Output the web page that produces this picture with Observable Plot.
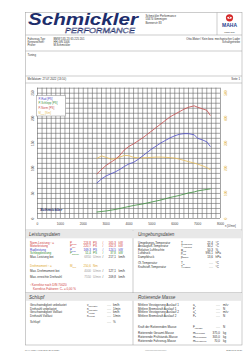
<!DOCTYPE html>
<html><head><meta charset="utf-8">
<script src="https://cdn.jsdelivr.net/npm/d3@7"></script>
<script src="https://cdn.jsdelivr.net/npm/@observablehq/plot@0.6"></script>
<style>
html,body{margin:0;padding:0;background:#fff;}
#page{position:relative;width:250px;height:354px;overflow:hidden;background:#fff;font-family:"Liberation Sans",Arial,sans-serif;}
#page > svg{position:absolute;left:0;}
</style></head><body><div id="page"></div>
<script>
// ---- chart data ----
const rpm      = [2600, 2800, 3000, 3200, 3400, 3600, 3800, 4000, 4200, 4400, 4600, 4800, 5000, 5200, 5400, 5600, 5800, 6000, 6200, 6400, 6600, 6850, 7000, 7200, 7400, 7550];
const pNorm    = [89, 98, 106, 112, 118, 126, 137, 144, 149, 155, 161, 168, 175, 182, 189, 196, 203, 208, 213, 218, 222, 224.8, 222, 219, 216, 206];
const pRad     = [71, 79, 85, 89, 93, 98, 104, 109, 112, 118, 125, 132, 139, 145, 151, 156, 161, 165, 168, 169.3, 169.3, 167, 160, 157, 153, 144];
const pSchlepp = [13, 14, 15, 16.5, 18, 20, 22, 24, 26, 27.5, 29, 31, 33, 35, 37, 39.5, 42, 44, 46, 48.5, 51, 53, 55, 56.5, 58, 59];
const mRad     = [240, 250, 244, 237, 238, 245, 252, 250.6, 244, 242, 242, 243, 244, 245, 245, 244, 243, 241, 237, 232, 227, 221, 217, 211, 203, 195];
const xTicks   = [0, 1000, 2000, 3000, 4000, 5000, 6000, 7000, 8000];
const psTicks  = [0, 50, 100, 150, 200, 250];
const nmTicks  = [0, 100, 200, 300, 400, 500];
const seriesNames  = ["P-Rad [PS]", "P-Schlepp [PS]", "P-Norm [PS]", "M_Rad [Nm]"];
const seriesColors = ["#4a4ac8", "#3a8f3a", "#c84a4a", "#e8bf60"];

const rows = rpm.map((n, i) => ({n, rad: pRad[i], schlepp: pSchlepp[i], norm: pNorm[i], m: mRad[i]}));

const page = document.getElementById("page");

const chart = Plot.plot({
  width: 250, height: 150,
  marginLeft: 37, marginRight: 30, marginTop: 7.7, marginBottom: 12,
  x: {domain: [0, 8000], axis: null},
  y: {domain: [0, 260], axis: null},
  style: {fontFamily: "Liberation Sans, Arial, sans-serif", background: "transparent"},
  marks: [
    Plot.ruleX(d3.range(0, 8001, 200), {x: d => d, y1: 0, y2: 260, stroke: "#666", strokeWidth: 0.6}),
    Plot.ruleY(d3.range(0, 261, 10), {y: d => d, x1: 0, x2: 8000, stroke: "#666", strokeWidth: 0.6}),
    Plot.line(rows, {x: "n", y: "schlepp", stroke: seriesColors[1], strokeWidth: 0.8}),
    Plot.line(rows, {x: "n", y: d => d.m / 2, stroke: seriesColors[3], strokeWidth: 0.85}),
    Plot.line(rows, {x: "n", y: "rad", stroke: seriesColors[0], strokeWidth: 0.8}),
    Plot.line(rows, {x: "n", y: "norm", stroke: seriesColors[2], strokeWidth: 0.8}),
    Plot.text(xTicks, {x: d => d, y: 0, text: d => String(d), dy: 5, fontSize: 3.2, fill: "#444"}),
    Plot.text(psTicks, {x: 0, y: d => d, text: d => String(d), rotate: -90, dx: -5, fontSize: 3.2, fill: "#555"}),
    Plot.text(nmTicks, {x: 8000, y: d => d / 2, text: d => String(d), rotate: -90, dx: 5, fontSize: 3.2, fill: "#e0b040"})
  ]
});
chart.style.top = "80px";
page.appendChild(chart);

// ---- page overlay ----
const ov = d3.select(page).append("svg").attr("width", 250).attr("height", 354).style("top", "0px")
  .attr("font-family", "Liberation Sans, Arial, sans-serif");

function line(x1, y1, x2, y2, c = "#9a9a9a") {
  ov.append("line").attr("x1", x1).attr("y1", y1).attr("x2", x2).attr("y2", y2).attr("stroke", c).attr("stroke-width", 0.5);
}
function rect(x, y, w, h, fill, stroke) {
  ov.append("rect").attr("x", x).attr("y", y).attr("width", w).attr("height", h)
    .attr("fill", fill || "none").attr("stroke", stroke || "none").attr("stroke-width", 0.5);
}
function txt(x, y, s, o = {}) {
  const t = ov.append("text").attr("x", x).attr("y", y).attr("dominant-baseline", "central")
    .attr("font-size", o.fs || 3.0).attr("fill", o.fill || "#333").attr("text-anchor", o.anchor || "start");
  if (o.italic) t.attr("font-style", "italic");
  if (o.bold) t.attr("font-weight", "bold");
  if (o.tl) t.attr("textLength", o.tl).attr("lengthAdjust", "spacingAndGlyphs");
  if (o.stroke) t.attr("stroke", o.stroke).attr("stroke-width", o.sw || 0.3);
  t.text(s);
  return t;
}
function sym(x, y, main, sub, fill) {
  const t = txt(x, y, main, {fill});
  if (sub) t.append("tspan").attr("font-size", 1.9).attr("dy", 0.8).text(sub);
}

// frame
rect(25.5, 12.5, 216.5, 332.5, "none", "#9a9a9a");
line(25.5, 35, 242, 35);
line(217, 12.5, 217, 35);
line(25.5, 51, 242, 51);
line(25.5, 76, 242, 76);
line(25.5, 83, 242, 83);
line(25.5, 230, 242, 230);
line(133, 230, 133, 345);
line(25.5, 292.5, 242, 292.5);
rect(26, 230.3, 106.7, 8, "#e8e8e8");
rect(133.3, 230.3, 108.4, 8, "#e8e8e8");
rect(26, 292.8, 106.7, 8, "#e8e8e8");
rect(133.3, 292.8, 108.4, 8, "#e8e8e8");

// logo
txt(28, 19.5, "Schmickler", {fs: 16, bold: true, italic: true, fill: "#1d2d6b", tl: 110});
txt(65, 30, "PERFORMANCE", {fs: 6.5, italic: true, fill: "#fff", stroke: "#1d2d6b", sw: 0.35, tl: 70});
txt(145.5, 15.7, "Schmickler Performance", {fs: 2.8});
txt(145.5, 19.2, "53474 Gimmigen", {fs: 2.8});
txt(145.5, 22.7, "Bonnerstr 83", {fs: 2.8});
// MAHA
ov.append("circle").attr("cx", 229.5).attr("cy", 17.8).attr("r", 3.6).attr("fill", "#d52a2a");
ov.append("ellipse").attr("cx", 229.5).attr("cy", 17.8).attr("rx", 2.4).attr("ry", 1.1).attr("fill", "#fff");
ov.append("circle").attr("cx", 229.5).attr("cy", 17.8).attr("r", 0.7).attr("fill", "#d52a2a");
txt(229.5, 25.3, "MAHA", {fs: 6, bold: true, fill: "#1d3f8f", anchor: "middle", tl: 15});
txt(229.5, 32, "MSR 500", {fs: 2.5, anchor: "middle"});

// vehicle info
const infoLabels = ["Fahrzeug-Typ:", "Kennzeichen:", "Prüfer:"];
const infoValues = ["BMW 535 23 65 225 201", "HH-GN 1006", "M.Schmickler"];
infoLabels.forEach((l, i) => { txt(27.5, 38.5 + i * 3.3, l, {fs: 2.8}); txt(53.5, 38.5 + i * 3.3, infoValues[i], {fs: 2.8}); });
txt(240, 38.5, "Otto-Motor / Kein bzw. mechanischer Lader", {fs: 2.8, anchor: "end"});
txt(240, 41.8, "Schaltgetriebe", {fs: 2.8, anchor: "end"});
txt(27.5, 54.5, "Tuning", {fs: 2.8});
txt(27.5, 79.4, "Meßdatum: 27.07.2022 (13:10)", {fs: 2.8});
txt(240, 79.4, "Seite 1", {fs: 2.8, anchor: "end"});

// legend
rect(36.5, 95.5, 29, 20.5, "#fff", "#8a8a8a");
seriesNames.forEach((s, i) => {
  const t = txt(38.5, 98.6 + i * 4.8, "", {fs: 2.8, fill: seriesColors[i]});
  if (s.startsWith("M_")) { t.text("M"); t.append("tspan").attr("font-size", 1.9).attr("dy", 0.6).text("Rad"); t.append("tspan").attr("dy", -0.6).text(" [Nm]"); }
  else t.text(s);
});
// mini logo
txt(40, 209.3, "Schmickler", {fs: 4.2, bold: true, italic: true, fill: "#1d2d6b", tl: 22});
txt(225, 226.6, "n [U/min]", {fs: 2.7, fill: "#444"});

// Leistungsdaten
txt(29, 234.5, "Leistungsdaten", {fs: 4.6, italic: true, fill: "#444"});
const leistung = [
  {label: "Norm-Leistung ¹ =", s: "P", sub: "Norm", v1: "224,8", u1: "PS", v2: "165,3", u2: "kW", c: "#d03a3a"},
  {label: "Motorleistung", s: "P", sub: "Mot", v1: "220,7", u1: "PS", v2: "162,3", u2: "kW", c: "#d03a3a"},
  {label: "Radleistung", s: "P", sub: "Rad", v1: "169,3", u1: "PS", v2: "124,5", u2: "kW", c: "#3a3ac0"},
  {label: "Schleppleistung", s: "P", sub: "Schlepp", v1: "51,4", u1: "PS", v2: "37,8", u2: "kW", c: "#2f8a2f"},
  {label: "Max. Leistung bei", v1: "6850", u1: "U/min", v2: "217,1", u2: "km/h", c: "#333", c1: "#999"},
  {label: "Drehmoment ¹ =", s: "M", sub: "Rad", v1: "250,6", u1: "Nm", c: "#e0a830"},
  {label: "Max. Drehmoment bei", v1: "4000", u1: "U/min", v2: "127,1", u2: "km/h", c: "#333", c1: "#999"},
  {label: "Max. erreichte Drehzahl", v1: "7550", u1: "U/min", v2: "209,8", u2: "km/h", c: "#333", c1: "#999"}
];
const leistungY = [243, 246.4, 249.8, 253.2, 256.6, 266.3, 271.2, 276.8];
leistung.forEach((r, i) => {
  const y = leistungY[i], c1 = r.c1 || r.c;
  txt(30, y, r.label, {fill: r.c});
  if (r.s) sym(70, y, r.s, r.sub, r.c);
  txt(91, y, r.v1, {fill: c1, anchor: "end"});
  txt(93, y, r.u1, {fill: c1});
  if (r.v2) { txt(103, y, "/", {fill: r.c, anchor: "middle"}); txt(116, y, r.v2, {fill: r.c, anchor: "end"}); txt(118.5, y, r.u2, {fill: r.c}); }
});
txt(30, 284.5, "¹ Korrektur nach DIN 70020", {fill: "#d03a3a"});
const kf = txt(33, 288.5, "Korrektur-Faktoren: C", {fill: "#d03a3a"});
kf.append("tspan").attr("font-size", 1.9).attr("dy", 0.6).text("0");
kf.append("tspan").attr("dy", -0.6).text(" =   0,00 %");

// Umgebungsdaten
txt(138, 234.5, "Umgebungsdaten", {fs: 4.6, italic: true, fill: "#444"});
const umgebung = [
  {label: "Umgebungs-Temperatur", s: "T", sub: "Umgebung", v: "22,4", u: "°C"},
  {label: "Ansaugluft-Temperatur", s: "T", sub: "Ansaugluft", v: "30,2", u: "°C"},
  {label: "Relative Luftfeuchte", s: "φ", sub: "Luft", v: "50,3", u: "%"},
  {label: "Luftdruck", s: "p", sub: "Luft", v: "995,1", u: "hPa"},
  {label: "Dampfdruck", s: "p", sub: "Dampf", v: "13,6", u: "hPa"},
  {label: "Öl-Temperatur", s: "T", sub: "Öl", v: "----", u: "°C"},
  {label: "Kraftstoff-Temperatur", s: "T", sub: "Kraftstoff", v: "----", u: "°C"}
];
const umgebungY = [243, 246.4, 249.8, 253.2, 256.6, 263.2, 266.6];
umgebung.forEach((r, i) => {
  const y = umgebungY[i];
  txt(138, y, r.label);
  sym(181, y, r.s, r.sub, "#333");
  txt(213, y, r.v, {anchor: "end", fill: r.v === "----" ? "#999" : "#333"});
  txt(215.5, y, r.u);
});

// Schlupf
txt(29, 297, "Schlupf", {fs: 4.6, italic: true, fill: "#444"});
const schlupf = [
  {label: "Geschwindigkeit unbelastet", s: "v", sub: "unbelastet", u: "km/h"},
  {label: "Drehzahl unbelastet", s: "n", sub: "unbelastet", u: "1/min"},
  {label: "Geschwindigkeit Volllast", s: "v", sub: "Volllast", u: "km/h"},
  {label: "Drehzahl Volllast", s: "n", sub: "Volllast", u: "1/min"},
  {label: "Schlupf", u: "%"}
];
const schlupfY = [305.3, 308.7, 312.1, 315.5, 321.5];
schlupf.forEach((r, i) => {
  const y = schlupfY[i];
  txt(30, y, r.label);
  if (r.s) sym(87, y, r.s, r.sub, "#333");
  txt(111, y, "----", {anchor: "end", fill: "#999"});
  txt(113, y, r.u);
});

// Rotierende Masse
txt(138, 297, "Rotierende Masse", {fs: 4.6, italic: true, fill: "#444"});
const rotMasse = [
  {label: "Mittlere Verzögerung Auslauf 1", s: "a", sub: "1", v: "----", u: "m/s²"},
  {label: "Mittlere Bremskraft Auslauf 1", s: "F", sub: "1", v: "----", u: "N"},
  {label: "Mittlere Verzögerung Auslauf 2", s: "a", sub: "2", v: "----", u: "m/s²"},
  {label: "Mittlere Bremskraft Auslauf 2", s: "F", sub: "2", v: "----", u: "N"},
  {label: "Kraft der Rotierenden Masse", s: "F", sub: "rotMasse", v: "----", u: "N"},
  {label: "Rotierende Gesamt-Masse", s: "m", sub: "rot.Gesamt", v: "375,0", u: "kg"},
  {label: "Rotierende Prüfstands-Masse", s: "m", sub: "rot.Prüfstand", v: "305,0", u: "kg"},
  {label: "Rotierende Fahrzeug-Masse", s: "m", sub: "rot.Fahrzeug", v: "70,0", u: "kg"}
];
const rotY = [305.3, 308.7, 312.1, 315.5, 327, 332.5, 336.5, 340.5];
rotMasse.forEach((r, i) => {
  const y = rotY[i];
  txt(138, y, r.label);
  sym(193, y, r.s, r.sub, "#333");
  txt(220, y, r.v, {anchor: "end", fill: r.v === "----" ? "#999" : "#333"});
  txt(223, y, r.u);
});

// footer
txt(25, 349.8, "MAHA MSR 4 v.nob 2011 (29.07.2021)", {fs: 2, fill: "#555"});
txt(145, 349.8, "(XXXXXXXXXXXXXXX)", {fs: 2, fill: "#555"});
txt(242, 349.8, "2022-08-01 13:20", {fs: 2, fill: "#555", anchor: "end"});
</script></body></html>
